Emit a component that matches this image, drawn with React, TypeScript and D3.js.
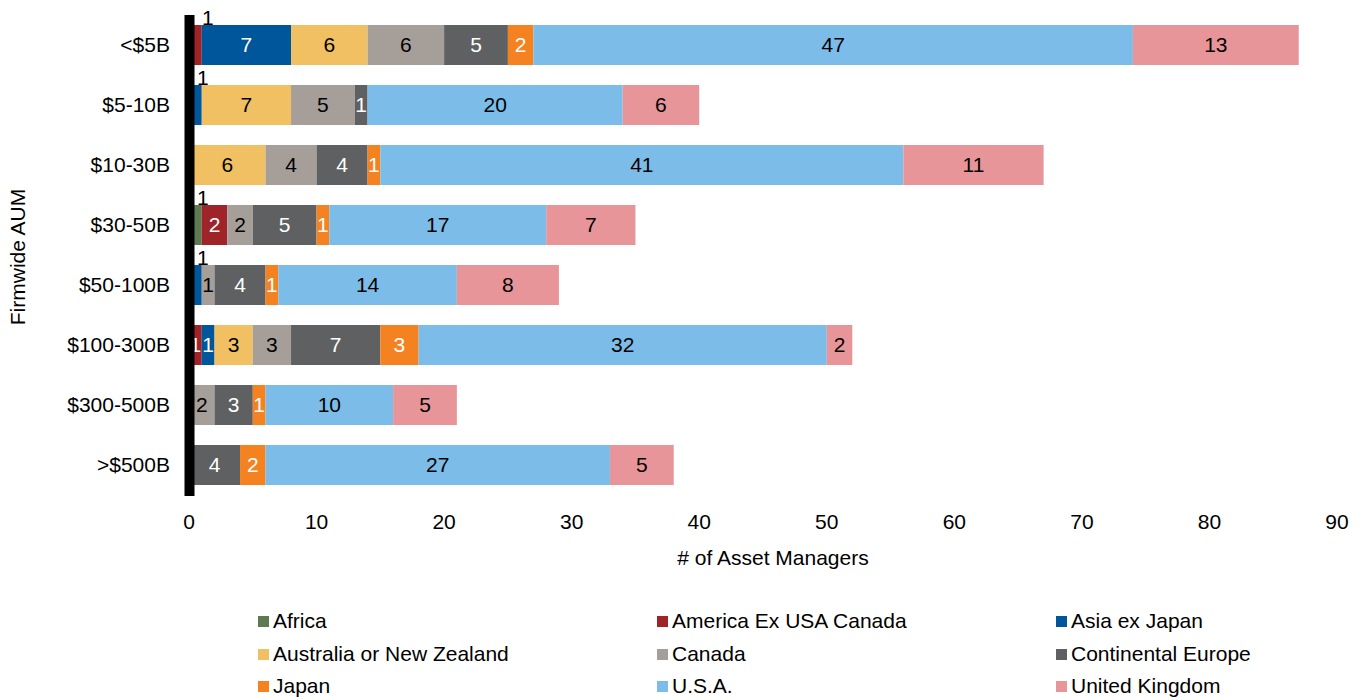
import React from "react";
import * as d3 from "d3";

const categories = ["<$5B", "$5-10B", "$10-30B", "$30-50B", "$50-100B", "$100-300B", "$300-500B", ">$500B"];
const seriesNames = [
  "Africa",
  "America Ex USA Canada",
  "Asia ex Japan",
  "Australia or New Zealand",
  "Canada",
  "Continental Europe",
  "Japan",
  "U.S.A.",
  "United Kingdom",
];
const africa = [0, 0, 0, 1, 0, 0, 0, 0];
const americaExUsaCanada = [1, 0, 0, 2, 0, 1, 0, 0];
const asiaExJapan = [7, 1, 0, 0, 1, 1, 0, 0];
const australiaNz = [6, 7, 6, 0, 0, 3, 0, 0];
const canada = [6, 5, 4, 2, 1, 3, 2, 0];
const continentalEurope = [5, 1, 4, 5, 4, 7, 3, 4];
const japan = [2, 0, 1, 1, 1, 3, 1, 2];
const usa = [47, 20, 41, 17, 14, 32, 10, 27];
const uk = [13, 6, 11, 7, 8, 2, 5, 5];
const seriesValues = [africa, americaExUsaCanada, asiaExJapan, australiaNz, canada, continentalEurope, japan, usa, uk];
const xTicks = [0, 10, 20, 30, 40, 50, 60, 70, 80, 90];
// segments whose label sits above the bar: [category index, series index]
const labelsAbove = [
  [0, 1],
  [1, 2],
  [3, 0],
  [4, 2],
];

const colors = ["#5E7A52", "#9E2429", "#00569A", "#F0C062", "#A69E98", "#5F6062", "#F58220", "#7BBDE8", "#E8959A"];
const darkText = [false, true, true, false, false, true, true, false, false];

const FONT = "'Liberation Sans', Arial, sans-serif";
const FS = 21;

export default function App() {
  const width = 1365;
  const height = 700;
  const x = d3.scaleLinear().domain([0, 90]).range([189, 1337]);
  const y = d3.scaleBand<string>().domain(categories).range([15, 495]).paddingInner(1 / 3).paddingOuter(1 / 6);

  const table = categories.map((c, i) => {
    const row: Record<string, number | string> = { cat: c };
    seriesNames.forEach((s, j) => (row[s] = seriesValues[j][i]));
    return row;
  });
  const stacked = d3.stack<any>().keys(seriesNames)(table);
  const aboveSet = new Set(labelsAbove.map(([c, s]) => `${c}-${s}`));

  const legendCols = [258, 657, 1056];
  const legendRows = [621, 654, 686];

  return (
    <svg width={width} height={height} style={{ position: "absolute", left: 0, top: 0 }} fontFamily={FONT}>
      <rect width={width} height={height} fill="#fff" />
      {stacked.map((layer, j) => (
        <g key={layer.key}>
          {layer.map((d, i) => {
            const v = d[1] - d[0];
            if (v <= 0) return null;
            const y0 = y(categories[i])!;
            const bw = y.bandwidth();
            const x0 = x(d[0]);
            const x1 = x(d[1]);
            const above = aboveSet.has(`${i}-${j}`);
            return (
              <g key={i}>
                <rect x={x0} y={y0} width={x1 - x0} height={bw} fill={colors[j]} />
                {above ? (
                  <text x={x1 + (i === 0 ? 6 : 1)} y={y0} textAnchor="middle" fontSize={FS} fill="#000">
                    {v}
                  </text>
                ) : (
                  <text
                    x={(x0 + x1) / 2}
                    y={y0 + bw / 2}
                    dy="0.35em"
                    textAnchor="middle"
                    fontSize={FS}
                    fill={darkText[j] ? "#fff" : "#000"}
                  >
                    {v}
                  </text>
                )}
              </g>
            );
          })}
        </g>
      ))}
      <rect x={184.5} y={15} width={10} height={481} fill="#000" />
      {categories.map((c) => (
        <text key={c} x={170} y={y(c)! + y.bandwidth() / 2} dy="0.35em" textAnchor="end" fontSize={FS} fill="#000">
          {c}
        </text>
      ))}
      {xTicks.map((t) => (
        <text key={t} x={x(t)} y={522} dy="0.35em" textAnchor="middle" fontSize={FS} fill="#000">
          {t}
        </text>
      ))}
      <text x={773} y={558} dy="0.35em" textAnchor="middle" fontSize={FS} fill="#000">
        # of Asset Managers
      </text>
      <text transform="translate(18,257) rotate(-90)" dy="0.35em" textAnchor="middle" fontSize={FS} fill="#000">
        Firmwide AUM
      </text>
      {seriesNames.map((s, j) => {
        const cx = legendCols[j % 3];
        const cy = legendRows[Math.floor(j / 3)];
        return (
          <g key={s}>
            <rect x={cx} y={cy - 5} width={11} height={11} fill={colors[j]} />
            <text x={cx + 15} y={cy} dy="0.35em" fontSize={FS} fill="#000">
              {s}
            </text>
          </g>
        );
      })}
    </svg>
  );
}
